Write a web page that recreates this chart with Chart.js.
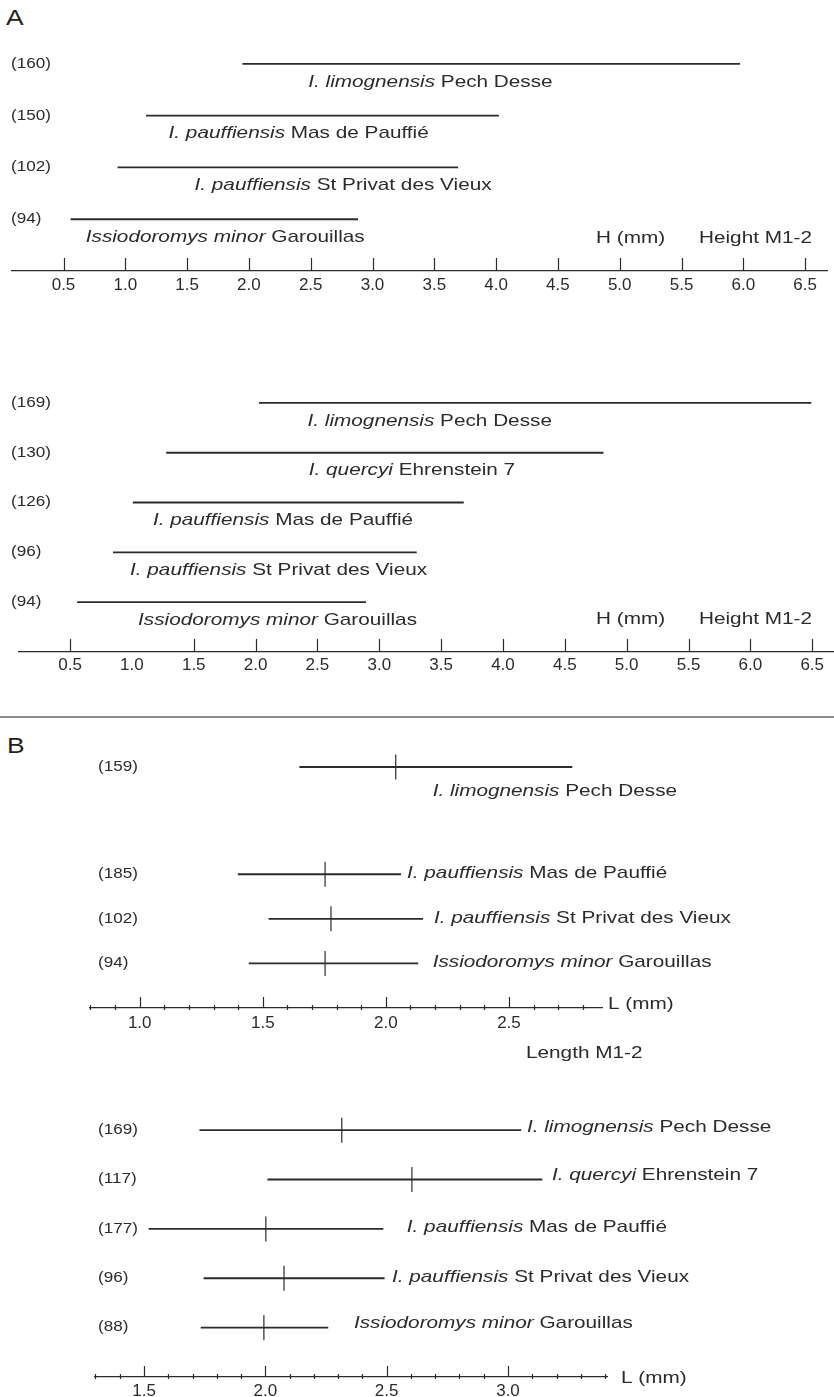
<!DOCTYPE html>
<html>
<head>
<meta charset="utf-8">
<title>Issiodoromys M1-2 ranges</title>
<script src="https://cdn.jsdelivr.net/npm/chart.js@4.4.1/dist/chart.umd.min.js"></script>
<style>
  html, body { margin: 0; padding: 0; background: #fff; overflow: hidden; }
  #page { position: relative; width: 834px; height: 1397px; overflow: hidden; }
  canvas { position: absolute; left: 0; }
  .letter {
    position: absolute; font: 22px "Liberation Sans", Arial, sans-serif; color: #231f20;
    transform: scaleX(1.2); transform-origin: left top; line-height: 26px;
  }
  #sep { position: absolute; left: 0; top: 716px; width: 834px; height: 2px; background: #8c8c8c; }
</style>
</head>
<body>
<div id="page">
  <div class="letter" style="left:6px;top:5px">A</div>
  <div id="sep"></div>
  <div class="letter" style="left:7px;top:733px">B</div>
  <canvas id="a1" style="top:0px" width="834" height="300"></canvas>
  <canvas id="a2" style="top:340px" width="834" height="340"></canvas>
  <canvas id="b0" style="top:720px" width="834" height="100"></canvas>
  <canvas id="b1" style="top:820px" width="834" height="250"></canvas>
  <canvas id="b2" style="top:1070px" width="834" height="340"></canvas>
</div>
<script>
const FONT = '"Liberation Sans", Arial, Helvetica, sans-serif';
const INK = '#2b2b2b';
const STRETCH = 1.22; // the printed type is wider than it is tall

// A, Height M1-2 (upper set)
const countsA1 = [160, 150, 102, 94];
const taxaA1 = ['I. limognensis', 'I. pauffiensis', 'I. pauffiensis', 'Issiodoromys minor'];
const sitesA1 = ['Pech Desse', 'Mas de Pauffié', 'St Privat des Vieux', 'Garouillas'];
const minA1 = [1.95, 1.17, 0.94, 0.56];
const maxA1 = [5.97, 4.02, 3.69, 2.88];
const labelAtA1 = [2.48, 1.35, 1.56, 0.68];

// A, Height M1-2 (lower set)
const countsA2 = [169, 130, 126, 96, 94];
const taxaA2 = ['I. limognensis', 'I. quercyi', 'I. pauffiensis', 'I. pauffiensis', 'Issiodoromys minor'];
const sitesA2 = ['Pech Desse', 'Ehrenstein 7', 'Mas de Pauffié', 'St Privat des Vieux', 'Garouillas'];
const minA2 = [2.03, 1.28, 1.01, 0.85, 0.56];
const maxA2 = [6.49, 4.81, 3.68, 3.30, 2.89];
const labelAtA2 = [2.42, 2.43, 1.17, 0.985, 1.05];

// B, Length M1-2 (upper set)
const countsB1 = [159, 185, 102, 94];
const taxaB1 = ['I. limognensis', 'I. pauffiensis', 'I. pauffiensis', 'Issiodoromys minor'];
const sitesB1 = ['Pech Desse', 'Mas de Pauffié', 'St Privat des Vieux', 'Garouillas'];
const minB1 = [1.65, 1.40, 1.525, 1.444];
const meanB1 = [2.04, 1.753, 1.777, 1.753];
const maxB1 = [2.756, 2.06, 2.15, 2.13];
const labelAtB1 = [2.19, 2.086, 2.195, 2.19];

// B, Length M1-2 (lower set)
const countsB2 = [169, 117, 177, 96, 88];
const taxaB2 = ['I. limognensis', 'I. quercyi', 'I. pauffiensis', 'I. pauffiensis', 'Issiodoromys minor'];
const sitesB2 = ['Pech Desse', 'Ehrenstein 7', 'Mas de Pauffié', 'St Privat des Vieux', 'Garouillas'];
const minB2 = [1.73, 2.01, 1.52, 1.747, 1.735];
const meanB2 = [2.315, 2.604, 2.002, 2.077, 1.994];
const maxB2 = [3.053, 3.14, 2.485, 2.49, 2.258];
const labelAtB2 = [3.078, 3.181, 2.583, 2.522, 2.365];

// tick labels
const ticksA = [0.5, 1.0, 1.5, 2.0, 2.5, 3.0, 3.5, 4.0, 4.5, 5.0, 5.5, 6.0, 6.5];
const ticksB1 = [1.0, 1.5, 2.0, 2.5];
const ticksB2 = [1.5, 2.0, 2.5, 3.0];

function writeText(ctx, x, y, parts, size) {
    ctx.save();
    ctx.translate(x, y);
    ctx.scale(STRETCH, 1);
    ctx.fillStyle = INK;
    ctx.textBaseline = 'middle';
    ctx.textAlign = 'left';
    let cx = 0;
    parts.forEach(([txt, italic]) => {
        ctx.font = (italic ? 'italic ' : '') + size + 'px ' + FONT;
        ctx.fillText(txt, cx, 0);
        cx += ctx.measureText(txt).width;
    });
    ctx.restore();
}

function decor(spec, top) {
    return {
        id: 'decor_' + top,
        afterDraw(chart) {
            const ctx = chart.ctx;
            const xs = chart.scales.x;
            const ys = chart.scales.y;

            spec.counts.forEach((c, i) => {
                const py = ys.getPixelForValue(i);
                writeText(ctx, spec.countX, py, [['(' + c + ')', false]], 14);
                writeText(ctx, xs.getPixelForValue(spec.labelAt[i]), py + spec.labelDy[i],
                    [[spec.taxa[i] + ' ', true], [spec.sites[i], false]], 17);
            });

            if (spec.ticks) {
                const base = chart.chartArea.bottom;
                ctx.save();
                ctx.strokeStyle = INK;
                ctx.lineWidth = 1.2;
                ctx.beginPath();
                spec.ticks.forEach(v => {
                    if ((spec.noMark || []).includes(v)) return;
                    const px = Math.round(xs.getPixelForValue(v)) + 0.5;
                    ctx.moveTo(px, base - spec.tickLen);
                    ctx.lineTo(px, base);
                });
                if (spec.minor) {
                    for (let k = Math.ceil(xs.min * 10); k <= xs.max * 10; k++) {
                        if (k % 5 === 0) continue;
                        const px = Math.round(xs.getPixelForValue(k / 10)) + 0.5;
                        ctx.moveTo(px, base - 3);
                        ctx.lineTo(px, base + 2);
                    }
                }
                ctx.stroke();
                ctx.restore();
            }

            (spec.notes || []).forEach(n => writeText(ctx, n.x, n.y - top, [[n.text, false]], 17));
        }
    };
}

function drawPanel(id, top, spec) {
    const datasets = [{
        type: 'bar',
        indexAxis: 'y',
        data: spec.lo.map((lo, i) => ({ x: [lo, spec.hi[i]], y: i })),
        backgroundColor: INK,
        borderWidth: 0,
        barThickness: 1.2,
        clip: false
    }];
    if (spec.mean) {
        datasets.push({
            type: 'scatter',
            data: spec.mean.map((m, i) => ({ x: m, y: i })),
            pointStyle: 'line',
            rotation: 90,
            radius: 12.5,
            borderColor: INK,
            backgroundColor: INK,
            borderWidth: 1.2,
            clip: false
        });
    }
    const areaTop = spec.area[0] - top;
    const areaBottom = spec.area[1] - top;
    const chart = new Chart(document.getElementById(id), {
        type: 'bar',
        data: { datasets },
        options: {
            responsive: false,
            animation: false,
            events: [],
            layout: { padding: { left: spec.left, right: 834 - spec.right, top: areaTop, bottom: 0 } },
            scales: {
                x: {
                    type: 'linear',
                    offset: false,
                    min: spec.xMin,
                    max: spec.xMax,
                    display: !!spec.ticks,
                    afterBuildTicks: sc => { sc.ticks = (spec.ticks || []).map(v => ({ value: v })); },
                    grid: { display: false, drawTicks: false, offset: false },
                    border: { display: true, color: INK, width: 1.2 },
                    ticks: {
                        padding: spec.tickPad || 4,
                        color: INK,
                        font: { family: FONT, size: 17 },
                        maxRotation: 0,
                        autoSkip: false,
                        callback: v => Number(v).toFixed(1)
                    }
                },
                y: {
                    type: 'linear', offset: false, reverse: true,
                    min: -0.5, max: spec.axisRow, display: false,
                    grid: { display: false, drawTicks: false, offset: false }
                }
            },
            plugins: { legend: { display: false }, tooltip: { enabled: false } }
        },
        plugins: [decor(spec, top)]
    });
    // push the plot bottom onto the printed axis position
    let pad = 0;
    for (let k = 0; k < 5; k++) {
        const diff = chart.chartArea.bottom - areaBottom;
        if (Math.abs(diff) < 0.2) break;
        pad += diff;
        chart.options.layout.padding.bottom = pad;
        chart.update();
    }
}

drawPanel('a1', 0, {
    counts: countsA1, taxa: taxaA1, sites: sitesA1, lo: minA1, hi: maxA1, labelAt: labelAtA1,
    labelDy: countsA1.map(() => 18), countX: 11,
    left: 12, right: 827, area: [38, 271], xMin: 0.0833, xMax: 6.677, axisRow: 4,
    ticks: ticksA, tickLen: 13, tickPad: 4,
    notes: [{ text: 'H (mm)', x: 596, y: 238 }, { text: 'Height M1-2', x: 699, y: 238 }]
});

drawPanel('a2', 340, {
    counts: countsA2, taxa: taxaA2, sites: sitesA2, lo: minA2, hi: maxA2, labelAt: labelAtA2,
    labelDy: countsA2.map(() => 18), countX: 11,
    left: 19, right: 833, area: [378, 652], xMin: 0.0873, xMax: 6.668, axisRow: 5,
    ticks: ticksA, noMark: [1.0], tickLen: 13, tickPad: 3,
    notes: [{ text: 'H (mm)', x: 596, y: 619 }, { text: 'Height M1-2', x: 699, y: 619 }]
});

// the first row of the upper B set stands apart from the other three
drawPanel('b0', 720, {
    counts: countsB1.slice(0, 1), taxa: taxaB1.slice(0, 1), sites: sitesB1.slice(0, 1),
    lo: minB1.slice(0, 1), hi: maxB1.slice(0, 1), mean: meanB1.slice(0, 1), labelAt: labelAtB1.slice(0, 1),
    labelDy: [24], countX: 98,
    left: 90, right: 602, area: [745, 789], xMin: 0.798, xMax: 2.878, axisRow: 0.5
});

drawPanel('b1', 820, {
    counts: countsB1.slice(1), taxa: taxaB1.slice(1), sites: sitesB1.slice(1),
    lo: minB1.slice(1), hi: maxB1.slice(1), mean: meanB1.slice(1), labelAt: labelAtB1.slice(1),
    labelDy: [-1, -1, -1], countX: 98,
    left: 90, right: 602, area: [852, 1008], xMin: 0.798, xMax: 2.878, axisRow: 3,
    ticks: ticksB1, minor: true, tickLen: 11, tickPad: 5,
    notes: [{ text: 'L (mm)', x: 608, y: 1004 }, { text: 'Length M1-2', x: 526, y: 1053 }]
});

drawPanel('b2', 1070, {
    counts: countsB2, taxa: taxaB2, sites: sitesB2, lo: minB2, hi: maxB2, mean: meanB2, labelAt: labelAtB2,
    labelDy: [-3, -4, -2, -1, -4], countX: 98,
    left: 95, right: 607, area: [1105.5, 1377], xMin: 1.298, xMax: 3.408, axisRow: 5,
    ticks: ticksB2, minor: true, tickLen: 11, tickPad: 4,
    notes: [{ text: 'L (mm)', x: 621, y: 1378 }]
});
</script>
</body>
</html>
